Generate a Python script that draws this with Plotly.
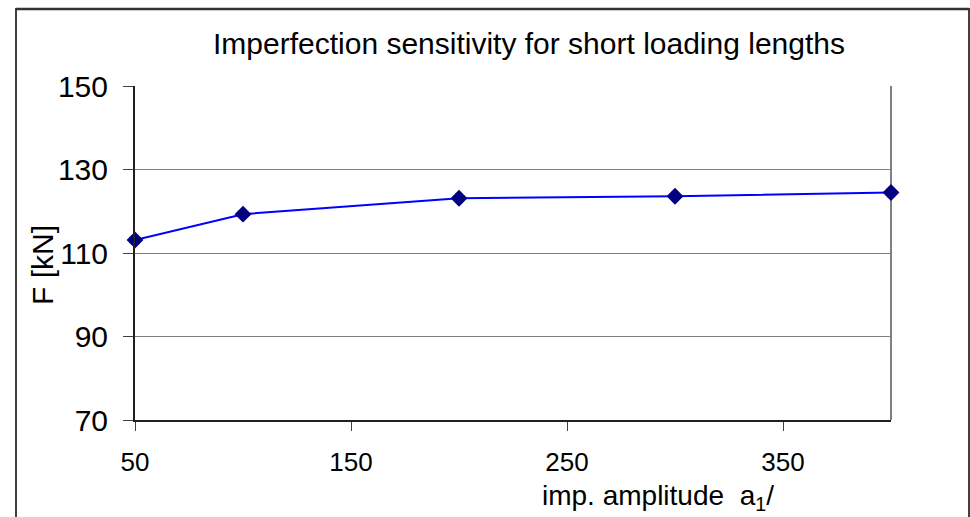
import plotly.graph_objects as go

# Data
amplitude = [50, 100, 200, 300, 400]
force_kN = [113.1, 119.3, 123.1, 123.6, 124.5]
x_ticks = [50, 150, 250, 350]
y_ticks = [70, 90, 110, 130, 150]

W, H = 970, 517
L, R, T, B = 135, 79, 86, 97
pw, ph = W - L - R, H - T - B

def px(x):
    return (x - L) / pw

def py(y):
    return (H - B - y) / ph

FONT = "Liberation Sans, Arial, sans-serif"

fig = go.Figure()
fig.add_trace(go.Scatter(
    x=amplitude, y=force_kN, mode="lines+markers",
    line=dict(color="#0000FF", width=2),
    marker=dict(symbol="diamond", color="#000080", size=13, line=dict(width=0)),
    showlegend=False, cliponaxis=False,
))

fig.update_layout(
    width=W, height=H,
    margin=dict(l=L, r=R, t=T, b=B),
    paper_bgcolor="white", plot_bgcolor="white",
    font=dict(family=FONT, color="black", size=29),
    title=dict(text="Imperfection sensitivity for short loading lengths",
               x=px(529), xref="paper", xanchor="center",
               y=1 - 43 / H, yref="container", yanchor="middle",
               font=dict(size=30, family=FONT, color="black")),
    xaxis=dict(range=[50, 400], tickvals=x_ticks, showgrid=False, zeroline=False,
               showline=True, linecolor="#202020", linewidth=2,
               ticks="outside", ticklen=9, tickcolor="#404040", tickwidth=1,
               ticklabelstandoff=9, tickfont=dict(size=26)),
    yaxis=dict(range=[70, 150], tickvals=y_ticks, showgrid=True, gridcolor="#808080",
               gridwidth=1, zeroline=False,
               showline=True, linecolor="#202020", linewidth=2,
               ticks="outside", ticklen=10, tickcolor="#404040", tickwidth=1,
               ticklabelstandoff=9, tickfont=dict(size=30)),
    shapes=[
        # plot area right border
        dict(type="line", xref="paper", yref="paper", x0=1, x1=1, y0=0, y1=1,
             line=dict(color="#808080", width=2), layer="below"),
        # outer frame
        dict(type="line", xref="paper", yref="paper", x0=px(16), x1=px(16), y0=py(8), y1=py(520),
             line=dict(color="black", width=1.5)),
        dict(type="line", xref="paper", yref="paper", x0=px(969), x1=px(969), y0=py(8), y1=py(520),
             line=dict(color="black", width=1.5)),
        dict(type="line", xref="paper", yref="paper", x0=px(16), x1=px(969), y0=py(9), y1=py(9),
             line=dict(color="#333333", width=2.5)),
    ],
    annotations=[
        dict(text="imp. amplitude  a<sub>1</sub>/", xref="paper", yref="paper",
             x=px(658), y=py(497), xanchor="center", yanchor="middle",
             showarrow=False, font=dict(size=28, family=FONT, color="black")),
        dict(text="F [kN]", xref="paper", yref="paper", textangle=-90,
             x=px(42), y=py(265), xanchor="center", yanchor="middle",
             showarrow=False, font=dict(size=30, family=FONT, color="black")),
    ],
)

fig.write_html("out.html")
